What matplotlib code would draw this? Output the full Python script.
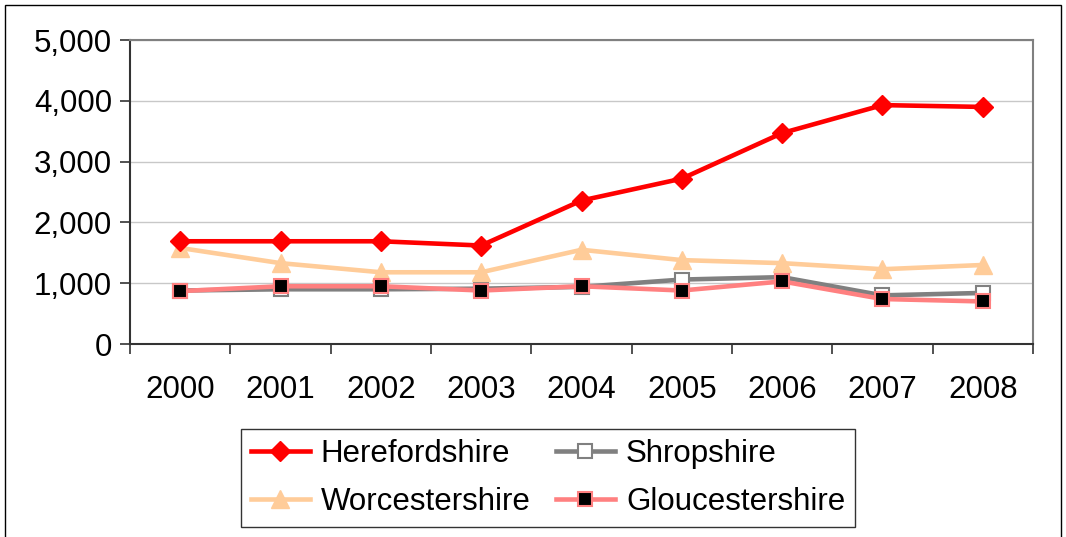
import matplotlib.pyplot as plt
from matplotlib.patches import Rectangle
from matplotlib.ticker import FuncFormatter, FixedLocator

years = ["2000", "2001", "2002", "2003", "2004", "2005", "2006", "2007", "2008"]
herefordshire = [1690, 1690, 1690, 1620, 2360, 2720, 3470, 3930, 3900]
worcestershire = [1580, 1330, 1180, 1180, 1550, 1380, 1330, 1230, 1300]
shropshire = [880, 900, 900, 910, 940, 1060, 1100, 800, 840]
gloucestershire = [870, 950, 950, 880, 950, 880, 1030, 740, 700]

plt.rcParams["font.family"] = ["Liberation Sans", "DejaVu Sans"]
fs = 22.5

fig = plt.figure(figsize=(10.66, 5.37), dpi=100)
ax = fig.add_axes([0.122, 0.3594, 0.847, 0.566])

x = list(range(len(years)))

# drawn back to front like the original
ax.plot(x, shropshire, color="#808080", lw=3.3, marker="s", ms=9.5,
        mfc="white", mec="#808080", mew=1.5, label="Shropshire", zorder=3)
ax.plot(x, gloucestershire, color="#ff8080", lw=3.3, marker="s", ms=9.5,
        mfc="black", mec="#ff8080", mew=1.5, label="Gloucestershire", zorder=4)
ax.plot(x, worcestershire, color="#ffcc99", lw=3.3, marker="^", ms=13,
        mfc="#ffcc99", mec="#ffcc99", label="Worcestershire", zorder=3)
ax.plot(x, herefordshire, color="#ff0000", lw=3.3, marker="D", ms=10,
        mfc="#ff0000", mec="#ff0000", label="Herefordshire", zorder=5)

ax.set_xlim(-0.5, len(years) - 0.5)
ax.set_ylim(0, 5000)
ax.set_yticks(range(0, 5001, 1000))
ax.yaxis.set_major_formatter(FuncFormatter(lambda v, p: f"{int(v):,}"))
ax.yaxis.grid(True, color="#c8c8c8", lw=1)
ax.set_axisbelow(True)

ax.set_xticks(x)
ax.set_xticklabels(years)
ax.xaxis.set_minor_locator(FixedLocator([i - 0.5 for i in range(len(years) + 1)]))
ax.tick_params(axis="x", which="major", length=0, pad=22, labelsize=fs)
ax.tick_params(axis="x", which="minor", length=7, width=1.2, color="#333333")
ax.tick_params(axis="y", length=7, width=1.2, color="#333333", labelsize=fs, pad=6)

for side in ["left", "bottom"]:
    ax.spines[side].set_color("#333333")
    ax.spines[side].set_linewidth(1.5)
for side in ["top", "right"]:
    ax.spines[side].set_color("#808080")
    ax.spines[side].set_linewidth(1.5)

h = ax.get_legend_handles_labels()[0]
handles = [h[3], h[2], h[0], h[1]]
labels = ["Herefordshire", "Worcestershire", "Shropshire", "Gloucestershire"]
leg = fig.legend(handles, labels, ncol=2, loc="center",
                 bbox_to_anchor=(0.514, 0.11), fontsize=fs, frameon=True,
                 fancybox=False, edgecolor="black", handlelength=1.9,
                 columnspacing=0.8, handletextpad=0.35, labelspacing=0.6,
                 borderpad=0.3, borderaxespad=0)
leg.get_frame().set_linewidth(1)

fig.patches.append(Rectangle((5 / 1066, -0.01), 1056 / 1066, 1 - 5 / 537 + 0.01,
                             transform=fig.transFigure, fill=False,
                             edgecolor="black", lw=1))

fig.savefig("out.png", dpi=100)
